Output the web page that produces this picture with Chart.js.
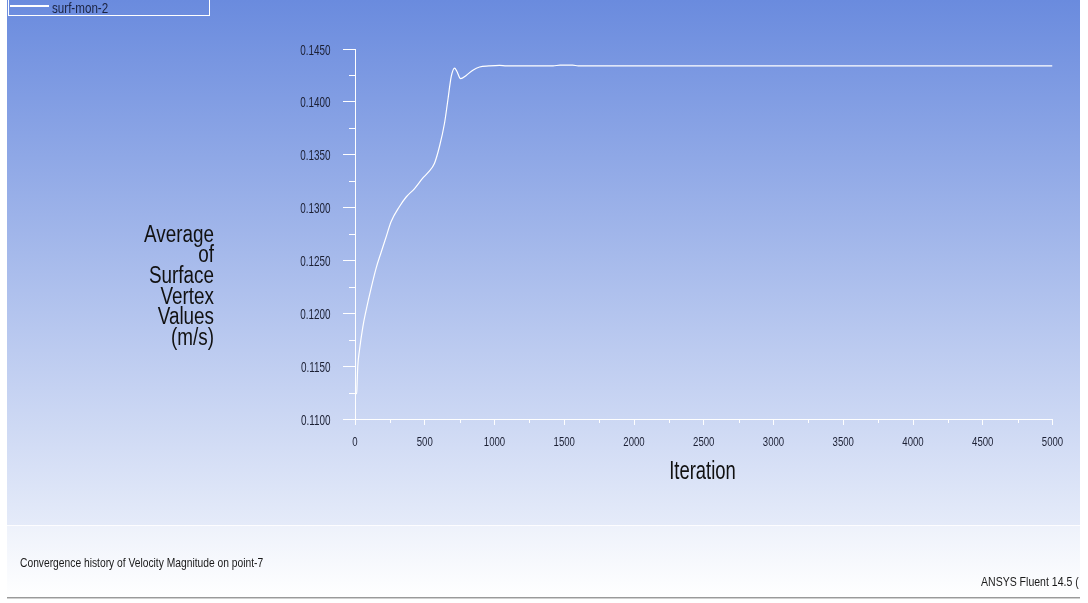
<!DOCTYPE html>
<html>
<head>
<meta charset="utf-8">
<script src="https://cdn.jsdelivr.net/npm/chart.js@4.4.1/dist/chart.umd.min.js"></script>
<style>
  html, body { margin: 0; padding: 0; background: #ffffff; overflow: hidden; }
  canvas { display: block; }
</style>
</head>
<body>
<canvas id="monitor" width="1088" height="603"></canvas>
<script>
// Monitor series: velocity magnitude at point-7 versus solver iteration
const seriesName = 'surf-mon-2';
const iterations = [0, 12, 15, 20, 32, 56, 80, 116, 152, 188, 220, 260, 319, 367, 427, 487, 523, 570, 606, 642, 666, 690, 714, 730, 757, 797, 845, 893, 960, 1036, 1085, 1420, 1470, 1560, 1600, 2500, 3500, 5000];
const velocity   = [0.1124, 0.1124, 0.1133, 0.1150, 0.1165, 0.1187, 0.1203, 0.1224, 0.1243, 0.1258, 0.1271, 0.1287, 0.1301, 0.1310, 0.1318, 0.1328, 0.1333, 0.1342, 0.1358, 0.1380, 0.1402, 0.1424, 0.1432, 0.1429, 0.1422, 0.1425, 0.1430, 0.1433, 0.14340, 0.14346, 0.14340, 0.14340, 0.14348, 0.14348, 0.14340, 0.14340, 0.14340, 0.14340];

// Axis tick labels
const iterTickLabels = ['0', '500', '1000', '1500', '2000', '2500', '3000', '3500', '4000', '4500', '5000'];
const velocityTickLabels = ['0.1100', '0.1150', '0.1200', '0.1250', '0.1300', '0.1350', '0.1400', '0.1450'];

// Titles and captions
const yTitleLines = ['Average', 'of', 'Surface', 'Vertex', 'Values', '(m/s)'];
const xTitle = 'Iteration';
const footerLeft = 'Convergence history of Velocity Magnitude on point-7';
const footerRight = 'ANSYS Fluent 14.5 (';

const SANS = '"Liberation Sans", Arial, sans-serif';

// Major ticks come from the label arrays, a minor tick sits halfway between each pair
function buildTicks(labels) {
  const vals = labels.map(Number);
  const out = [];
  vals.forEach((v, i) => {
    out.push({ value: v, isMajor: true, text: labels[i] });
    if (i < vals.length - 1) out.push({ value: (v + vals[i + 1]) / 2, isMajor: false, text: '' });
  });
  return out;
}

const tickColor = (c) => (c.tick && c.tick.isMajor ? '#ffffff' : 'rgba(0,0,0,0)');

// Condensed text: horizontal squeeze around the anchor point
function condensedText(ctx, text, x, y, sx, align) {
  ctx.save();
  ctx.translate(x, y);
  ctx.scale(sx, 1);
  ctx.textAlign = align;
  ctx.fillText(text, 0, 0);
  ctx.restore();
}

const panelPlugin = {
  id: 'fluentPanel',
  beforeDraw(chart) {
    const ctx = chart.ctx;
    ctx.save();
    ctx.fillStyle = '#ffffff';
    ctx.fillRect(0, 0, chart.width, chart.height);
    // graphics window background
    const g = ctx.createLinearGradient(0, 0, 0, 526);
    g.addColorStop(0, 'rgb(106,139,222)');
    g.addColorStop(1, 'rgb(229,235,249)');
    ctx.fillStyle = g;
    ctx.fillRect(7, 0, 1073, 526);
    // caption strip
    const g2 = ctx.createLinearGradient(0, 526, 0, 598);
    g2.addColorStop(0, 'rgb(238,242,251)');
    g2.addColorStop(1, 'rgb(255,255,255)');
    ctx.fillStyle = g2;
    ctx.fillRect(7, 526, 1073, 72);
    ctx.fillStyle = 'rgba(255,255,255,0.9)';
    ctx.fillRect(7, 525, 1073, 1);
    ctx.fillStyle = '#9a9a9a';
    ctx.fillRect(7, 597, 1073, 1);
    ctx.fillStyle = '#d0d0d0';
    ctx.fillRect(7, 598, 1073, 1);
    ctx.restore();
  },
  afterDraw(chart) {
    const ctx = chart.ctx;
    const xs = chart.scales.x, ys = chart.scales.y;
    const area = chart.chartArea;
    ctx.save();

    // minor tick marks
    ctx.strokeStyle = '#ffffff';
    ctx.lineWidth = 1;
    ctx.beginPath();
    ys.ticks.forEach((t) => {
      if (t.isMajor) return;
      const py = Math.round(ys.getPixelForValue(t.value)) + 0.5;
      ctx.moveTo(area.left - 6, py);
      ctx.lineTo(area.left, py);
    });
    xs.ticks.forEach((t) => {
      if (t.isMajor) return;
      const px = Math.round(xs.getPixelForValue(t.value)) + 0.5;
      ctx.moveTo(px, area.bottom);
      ctx.lineTo(px, area.bottom + 4);
    });
    ctx.stroke();

    // tick labels, placed through the scales
    ctx.fillStyle = '#1c2034';
    ctx.textBaseline = 'alphabetic';
    ctx.font = '15px ' + SANS;
    ys.ticks.forEach((t) => {
      if (!t.isMajor) return;
      condensedText(ctx, t.text, area.left - 24.5, ys.getPixelForValue(t.value) + 5.5, 0.66, 'right');
    });
    ctx.font = '12px ' + SANS;
    xs.ticks.forEach((t) => {
      if (!t.isMajor) return;
      condensedText(ctx, t.text, xs.getPixelForValue(t.value), area.bottom + 26.5, 0.8, 'center');
    });

    // legend
    ctx.strokeStyle = '#ffffff';
    ctx.lineWidth = 1;
    ctx.strokeRect(8.5, -1.5, 201, 17);
    ctx.lineWidth = 2;
    ctx.beginPath();
    ctx.moveTo(10, 6);
    ctx.lineTo(49, 6);
    ctx.stroke();
    ctx.fillStyle = '#1b2340';
    ctx.font = '14px ' + SANS;
    condensedText(ctx, chart.data.datasets[0].label, 52, 12.5, 0.83, 'left');

    // y title, stacked and right aligned
    ctx.fillStyle = '#111111';
    ctx.font = '23px ' + SANS;
    yTitleLines.forEach((line, i) => condensedText(ctx, line, 214, 241.5 + i * 20.7, 0.82, 'right'));

    // x title
    ctx.font = '26px ' + SANS;
    condensedText(ctx, xTitle, 702.5, 478.5, 0.71, 'center');

    // captions
    ctx.beginPath();
    ctx.rect(7, 526, 1073, 72);
    ctx.clip();
    ctx.fillStyle = '#1a1a1a';
    ctx.font = '13px ' + SANS;
    condensedText(ctx, footerLeft, 20, 566.5, 0.79, 'left');
    condensedText(ctx, footerRight, 981, 586, 0.81, 'left');
    ctx.restore();
  }
};

new Chart(document.getElementById('monitor'), {
  type: 'line',
  data: {
    datasets: [{
      label: seriesName,
      data: iterations.map((it, i) => ({ x: it, y: velocity[i] })),
      borderColor: '#ffffff',
      borderWidth: 1.2,
      pointRadius: 0,
      cubicInterpolationMode: 'monotone',
      fill: false
    }]
  },
  options: {
    responsive: false,
    devicePixelRatio: 1,
    animation: false,
    events: [],
    layout: { padding: { left: 0, right: 35.5, top: 49, bottom: 144 } },
    plugins: { legend: { display: false }, tooltip: { enabled: false } },
    scales: {
      x: {
        type: 'linear',
        min: 0,
        max: 5000,
        afterBuildTicks: (s) => { s.ticks = buildTicks(iterTickLabels); },
        afterFit: (s) => { s.height = 40; },
        grid: { display: true, drawOnChartArea: false, drawTicks: true, tickLength: 6, tickColor: tickColor, tickWidth: 1 },
        border: { display: true, color: '#ffffff', width: 1 },
        ticks: { display: false, autoSkip: false }
      },
      y: {
        type: 'linear',
        min: 0.11,
        max: 0.145,
        afterBuildTicks: (s) => { s.ticks = buildTicks(velocityTickLabels); },
        afterFit: (s) => { s.width = 355; },
        grid: { display: true, drawOnChartArea: false, drawTicks: true, tickLength: 12, tickColor: tickColor, tickWidth: 1 },
        border: { display: true, color: '#ffffff', width: 1 },
        ticks: { display: false, autoSkip: false }
      }
    }
  },
  plugins: [panelPlugin]
});
</script>
</body>
</html>
